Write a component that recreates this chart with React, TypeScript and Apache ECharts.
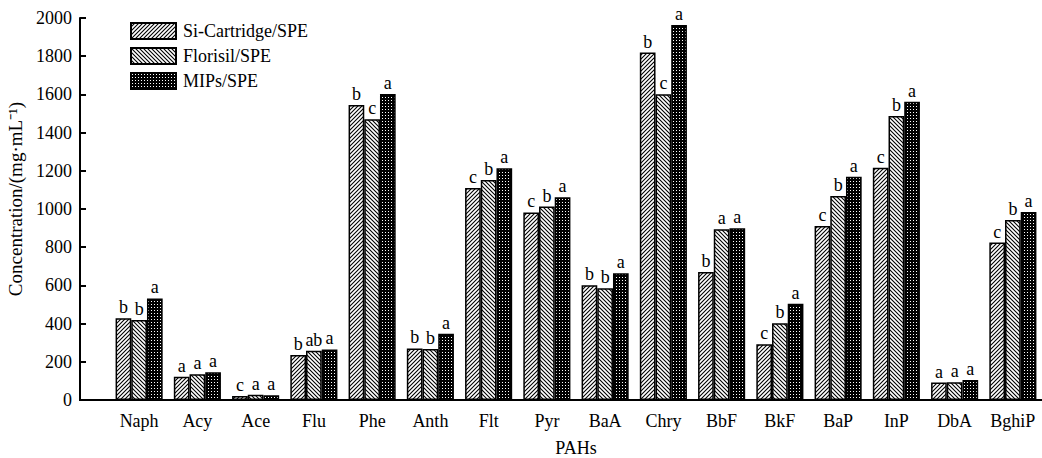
import React, { useEffect, useRef } from 'react';
import * as echarts from 'echarts';

const categories = ['Naph', 'Acy', 'Ace', 'Flu', 'Phe', 'Anth', 'Flt', 'Pyr', 'BaA', 'Chry', 'BbF', 'BkF', 'BaP', 'InP', 'DbA', 'BghiP'];
const seriesNames = ['Si-Cartridge/SPE', 'Florisil/SPE', 'MIPs/SPE'];
const siCartridge = [428, 122, 21, 236, 1545, 270, 1110, 982, 601, 1819, 670, 292, 911, 1216, 91, 824];
const florisil = [419, 135, 28, 258, 1470, 267, 1152, 1013, 585, 1601, 894, 402, 1068, 1487, 93, 942];
const mips = [532, 145, 25, 265, 1602, 347, 1213, 1062, 663, 1963, 899, 504, 1169, 1562, 105, 984];
const siLetters = ['b', 'a', 'c', 'b', 'b', 'b', 'c', 'c', 'b', 'b', 'b', 'c', 'c', 'c', 'a', 'c'];
const floLetters = ['b', 'a', 'a', 'ab', 'c', 'b', 'b', 'b', 'b', 'c', 'a', 'b', 'b', 'b', 'a', 'b'];
const mipLetters = ['a', 'a', 'a', 'a', 'a', 'a', 'a', 'a', 'a', 'a', 'a', 'a', 'a', 'a', 'a', 'a'];
const yMin = 0;
const yMax = 2000;
const yInterval = 200;

const GRID_LEFT = 110;
const Y_OFFSET = 30;
const FONT = '"Liberation Serif", "Times New Roman", serif';

function makeTile(kind: string, s: number): string {
  const c = document.createElement('canvas');
  c.width = s;
  c.height = s;
  const g = c.getContext('2d')!;
  if (kind === 'dots') {
    g.fillStyle = '#000';
    g.fillRect(0, 0, s, s);
    g.fillStyle = '#fff';
    g.fillRect(1, 1, 1, 1);
    return c.toDataURL();
  }
  g.fillStyle = '#fff';
  g.fillRect(0, 0, s, s);
  g.strokeStyle = '#000';
  g.lineWidth = 1.1;
  g.beginPath();
  if (kind === 'fwd') {
    g.moveTo(-1, 1); g.lineTo(1, -1);
    g.moveTo(0, s); g.lineTo(s, 0);
    g.moveTo(s - 1, s + 1); g.lineTo(s + 1, s - 1);
  } else {
    g.moveTo(0, 0); g.lineTo(s, s);
    g.moveTo(-1, s - 1); g.lineTo(1, s + 1);
    g.moveTo(s - 1, -1); g.lineTo(s + 1, 1);
  }
  g.stroke();
  return c.toDataURL();
}

export default function App() {
  const ref = useRef<HTMLDivElement>(null);
  useEffect(() => {
    if (!ref.current) return;
    const chart = echarts.init(ref.current, undefined, { renderer: 'svg' });
    const pat = (k: string, s: number) => ({ image: makeTile(k, s), repeat: 'repeat', imageWidth: s, imageHeight: s });
    const mk = (name: string, data: number[], letters: string[], kind: string, s: number) => ({
      name,
      type: 'bar',
      data,
      barWidth: 15.7,
      barGap: '0%',
      itemStyle: { color: pat(kind, s) as any, borderColor: '#000', borderWidth: 1.5 },
      label: {
        show: true,
        position: 'top',
        distance: 2,
        color: '#000',
        fontFamily: FONT,
        fontSize: 18,
        formatter: (p: any) => letters[p.dataIndex],
      },
    });
    chart.setOption({
      animation: false,
      backgroundColor: '#fff',
      textStyle: { fontFamily: FONT, color: '#000' },
      grid: { left: GRID_LEFT, right: 0, top: 18, bottom: 58, containLabel: false, outerBoundsMode: 'none' },
      legend: {
        orient: 'vertical',
        left: 125,
        top: 17,
        itemWidth: 45,
        itemHeight: 16,
        itemGap: 7,
        icon: 'rect',
        textStyle: { fontFamily: FONT, fontSize: 18, color: '#000', padding: [0, 0, 0, 2] },
        data: seriesNames,
      },
      xAxis: {
        type: 'category',
        data: categories,
        name: 'PAHs',
        nameLocation: 'middle',
        nameGap: 39,
        nameTextStyle: { fontFamily: FONT, fontSize: 18, color: '#000' },
        axisLine: { lineStyle: { color: '#000', width: 2 } },
        axisTick: { show: false },
        axisLabel: { color: '#000', fontFamily: FONT, fontSize: 18, margin: 12, interval: 0 },
      },
      yAxis: {
        type: 'value',
        min: yMin,
        max: yMax,
        interval: yInterval,
        offset: Y_OFFSET,
        name: 'Concentration/(mg·mL⁻¹)',
        nameLocation: 'middle',
        nameGap: 52,
        nameTextStyle: { fontFamily: FONT, fontSize: 19, color: '#000', padding: [0, 0, 0, 20] },
        axisLine: { show: true, lineStyle: { color: '#000', width: 2 } },
        axisTick: { show: true, inside: true, length: 6, lineStyle: { color: '#000', width: 2 } },
        axisLabel: { color: '#000', fontFamily: FONT, fontSize: 18, margin: 8, formatter: (v: number) => String(v) },
        splitLine: { show: false },
      },
      series: [
        mk(seriesNames[0], siCartridge, siLetters, 'fwd', 4),
        mk(seriesNames[1], florisil, floLetters, 'back', 4),
        mk(seriesNames[2], mips, mipLetters, 'dots', 3),
      ],
    });
    const y0 = chart.convertToPixel({ yAxisIndex: 0 }, 0) as number;
    chart.setOption({
      graphic: [
        {
          type: 'line',
          shape: { x1: GRID_LEFT - Y_OFFSET - 1, y1: y0, x2: GRID_LEFT + 1, y2: y0 },
          style: { stroke: '#000', lineWidth: 2 },
          z: 10,
        },
      ],
    });
    return () => chart.dispose();
  }, []);
  return <div ref={ref} style={{ position: 'fixed', left: 0, top: 0, width: 1042, height: 458 }} />;
}
